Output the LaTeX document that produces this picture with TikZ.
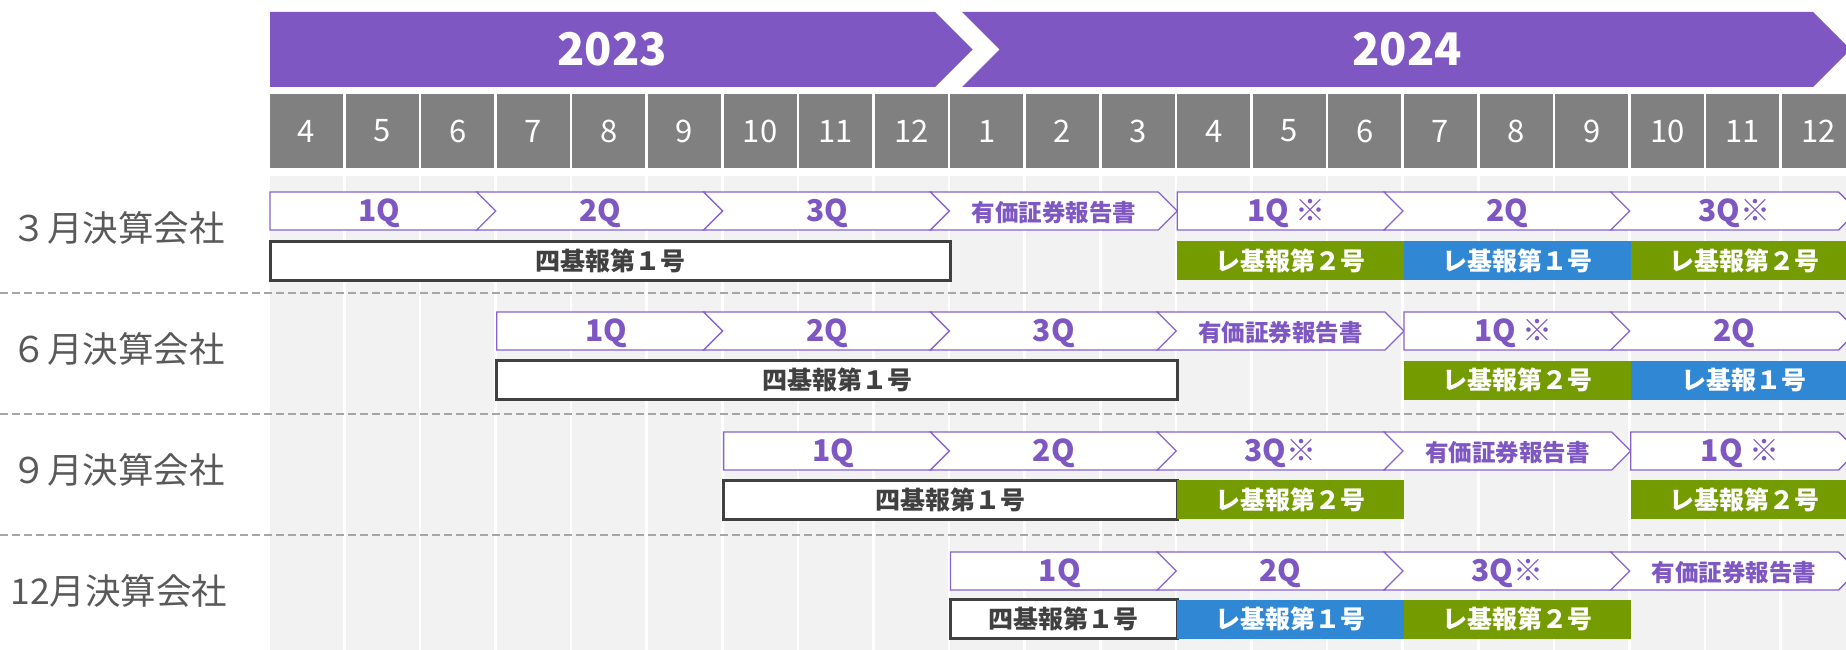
\documentclass[tikz,border=0pt]{standalone}
\usepackage{fontspec}
\setmainfont{Noto Sans CJK JP}
\definecolor{purp}{HTML}{7E57C2}
\definecolor{purpline}{HTML}{8763CF}
\definecolor{hdr}{HTML}{808080}
\definecolor{gridbg}{HTML}{F2F2F2}
\definecolor{dashgray}{HTML}{A6A6A6}
\definecolor{lbl}{HTML}{595959}
\definecolor{dark}{HTML}{404040}
\definecolor{grn}{HTML}{749B00}
\definecolor{blu}{HTML}{3088D4}
\tikzset{
  chev/.style={draw=purpline, line width=1.3pt, fill=white, line join=miter},
  qtext/.style={text=purp, font=\bfseries\fontsize{30}{32}\selectfont, inner sep=0pt},
  yeartext/.style={text=white, font=\bfseries\fontsize{45}{47}\selectfont, inner sep=0pt},
  monthtext/.style={text=white, font=\fontsize{31}{33}\selectfont, inner sep=0pt},
  rowlabel/.style={text=lbl, font=\fontsize{35.5}{37}\selectfont, inner sep=0pt},
  boxbase/.style={font=\bfseries\fontsize{25}{27}\selectfont, inner sep=0pt},
  fourbox/.style={boxbase, draw=dark, line width=3pt, fill=white, text=dark},
  greenbox/.style={boxbase, fill=grn, text=white},
  bluebox/.style={boxbase, fill=blu, text=white},
  dashsep/.style={draw=dashgray, line width=2.2pt, dash pattern=on 8pt off 4pt},
  yearband/.style={fill=purp}
}
\newcommand\Qflat[5]{% name,row,start,end,text
  \pgfmathsetmacro\xa{270+75.6*#3}
  \pgfmathsetmacro\xb{270+75.6*#4}
  \pgfmathsetmacro\yt{192+120*#2}
  \pgfmathsetmacro\ym{\yt+19}
  \pgfmathsetmacro\yb{\yt+38}
  \draw[chev] (\xa,\yt) -- ({\xb-19},\yt) -- (\xb,\ym) -- ({\xb-19},\yb) -- (\xa,\yb) -- cycle;
  \node[qtext] (#1) at ({(\xa+\xb)/2-4},{\ym+2}) {#5};
}
\newcommand\Qnotch[5]{% name,row,start,end,text
  \pgfmathsetmacro\xa{270+75.6*#3-20}
  \pgfmathsetmacro\xb{270+75.6*#4}
  \pgfmathsetmacro\yt{192+120*#2}
  \pgfmathsetmacro\ym{\yt+19}
  \pgfmathsetmacro\yb{\yt+38}
  \draw[chev] (\xa,\yt) -- ({\xb-19},\yt) -- (\xb,\ym) -- ({\xb-19},\yb) -- (\xa,\yb) -- ({\xa+19},\ym) -- cycle;
  \node[qtext] (#1) at ({(\xa+\xb)/2},{\ym+2}) {#5};
}
\newcommand\Rbox[6]{% name,row,start,end,style,text
  \pgfmathsetmacro\xa{270+75.6*#3}
  \pgfmathsetmacro\xb{270+75.6*#4}
  \pgfmathsetmacro\w{\xb-\xa}
  \pgfmathsetmacro\ym{241+119.5*#2+19.5}
  \node[#5, minimum width=\w pt, minimum height=39pt] (#1) at ({(\xa+\xb)/2},\ym) {#6};
}
\newcommand\Yk{{\fontsize{23.5}{25}\selectfont 有価証券報告書}}
\begin{document}
\begin{tikzpicture}[x=1pt,y=-1pt]
\useasboundingbox (0,0) rectangle (1846,650);
\clip (0,0) rectangle (1846,650);
% grid background
\foreach \k in {0,...,20}{
  \fill[gridbg] ({270+75.6*\k},176) rectangle ({270+75.6*\k+73},650);
}
% year banners
\fill[yearband] (270,12) -- (935,12) -- (972.5,49.5) -- (935,87) -- (270,87) -- cycle;
\fill[yearband] (962,12) -- (1813,12) -- (1850.5,49.5) -- (1813,87) -- (962,87) -- (999.5,49.5) -- cycle;
\node[yeartext] (y2023) at (612,49.5) {2023};
\node[yeartext] (y2024) at (1407,49.5) {2024};
% month header
\foreach \m [count=\i from 0] in {4,5,6,7,8,9,10,11,12,1,2,3,4,5,6,7,8,9,10,11,12}{
  \fill[hdr] ({270+75.6*\i},94) rectangle ({270+75.6*\i+73},168);
  \node[monthtext] (m\i) at ({270+75.6*\i+36.5},131) {\m};
}
% separators
\foreach \r in {0,1,2}{
  \draw[dashsep] (0,{293+121*\r}) -- (1846,{293+121*\r});
}
% row labels
\node[rowlabel] (l1) at (118,228) {３月決算会社};
\node[rowlabel] (l2) at (118,349) {６月決算会社};
\node[rowlabel] (l3) at (118,470) {９月決算会社};
\node[rowlabel] (l4) at (119,591) {12月決算会社};
% row 1 : 3月
\Qflat{q10}{0}{0}{3}{1Q}
\Qnotch{q11}{0}{3}{6}{2Q}
\Qnotch{q12}{0}{6}{9}{3Q}
\Qnotch{q13}{0}{9}{12}{\Yk}
\Qflat{q14}{0}{12}{15}{1Q ※}
\Qnotch{q15}{0}{15}{18}{2Q}
\Qnotch{q16}{0}{18}{21}{3Q※}
\Rbox{b10}{0}{0}{9}{fourbox}{四基報第１号}
\Rbox{b11}{0}{12}{15}{greenbox}{レ基報第２号}
\Rbox{b12}{0}{15}{18}{bluebox}{レ基報第１号}
\Rbox{b13}{0}{18}{21}{greenbox}{レ基報第２号}
% row 2 : 6月
\Qflat{q20}{1}{3}{6}{1Q}
\Qnotch{q21}{1}{6}{9}{2Q}
\Qnotch{q22}{1}{9}{12}{3Q}
\Qnotch{q23}{1}{12}{15}{\Yk}
\Qflat{q24}{1}{15}{18}{1Q ※}
\Qnotch{q25}{1}{18}{21}{2Q}
\Rbox{b20}{1}{3}{12}{fourbox}{四基報第１号}
\Rbox{b21}{1}{15}{18}{greenbox}{レ基報第２号}
\Rbox{b22}{1}{18}{21}{bluebox}{レ基報１号}
% row 3 : 9月
\Qflat{q30}{2}{6}{9}{1Q}
\Qnotch{q31}{2}{9}{12}{2Q}
\Qnotch{q32}{2}{12}{15}{3Q※}
\Qnotch{q33}{2}{15}{18}{\Yk}
\Qflat{q34}{2}{18}{21}{1Q ※}
\Rbox{b30}{2}{6}{12}{fourbox}{四基報第１号}
\Rbox{b31}{2}{12}{15}{greenbox}{レ基報第２号}
\Rbox{b32}{2}{18}{21}{greenbox}{レ基報第２号}
% row 4 : 12月
\Qflat{q40}{3}{9}{12}{1Q}
\Qnotch{q41}{3}{12}{15}{2Q}
\Qnotch{q42}{3}{15}{18}{3Q※}
\Qnotch{q43}{3}{18}{21}{\Yk}
\Rbox{b40}{3}{9}{12}{fourbox}{四基報第１号}
\Rbox{b41}{3}{12}{15}{bluebox}{レ基報第１号}
\Rbox{b42}{3}{15}{18}{greenbox}{レ基報第２号}
\end{tikzpicture}
\end{document}
